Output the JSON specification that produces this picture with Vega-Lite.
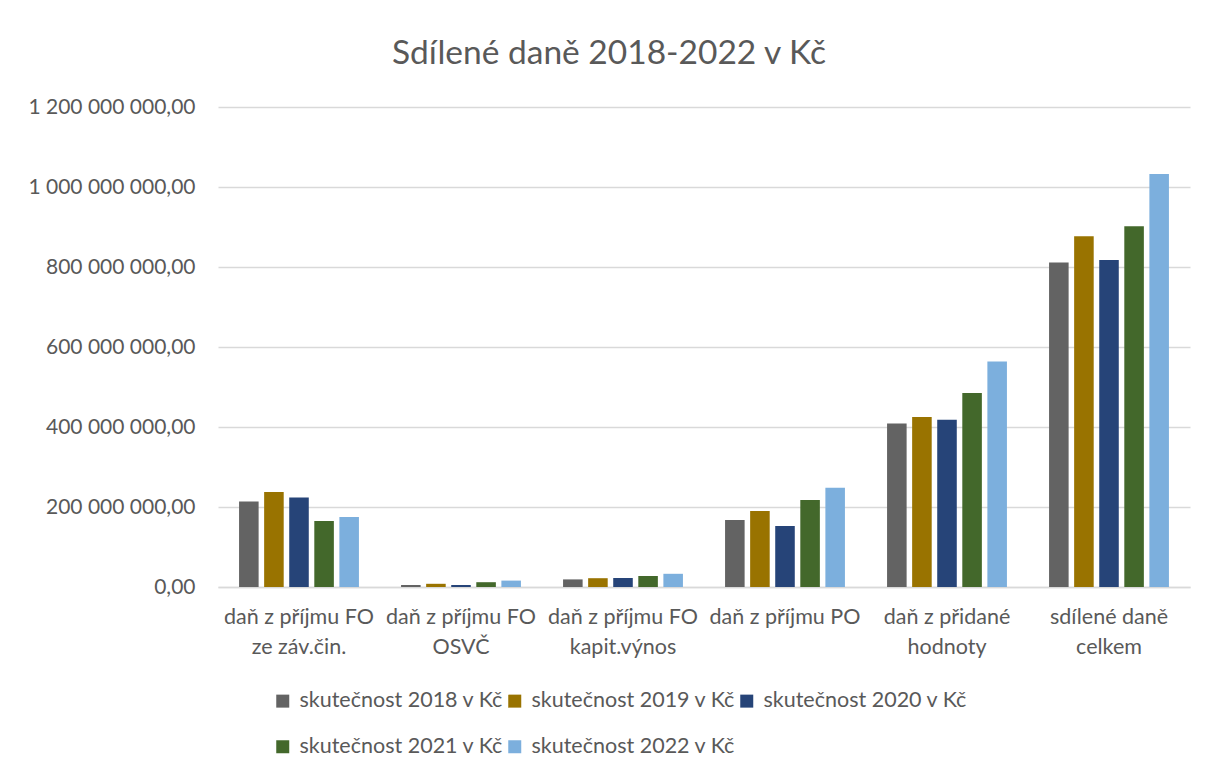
{
  "$schema": "https://vega.github.io/schema/vega-lite/v6.json",
  "width": 972,
  "height": 480,
  "autosize": {"type": "none"},
  "padding": {"left": 218, "top": 107, "right": 19, "bottom": 184},
  "background": "white",
  "title": {
    "text": "Sdílené daně 2018-2022 v Kč",
    "font": "Lato",
    "fontSize": 33.5,
    "fontWeight": "normal",
    "color": "#595959",
    "anchor": "middle",
    "frame": "bounds",
    "offset": 25
  },
  "config": {
    "view": {"stroke": null},
    "font": "Lato"
  },
  "data": {
    "values": [
      {"kategorie": "daň z příjmu FO|ze záv.čin.", "rok": "skutečnost 2018 v Kč", "hodnota": 214000000},
      {"kategorie": "daň z příjmu FO|ze záv.čin.", "rok": "skutečnost 2019 v Kč", "hodnota": 237500000},
      {"kategorie": "daň z příjmu FO|ze záv.čin.", "rok": "skutečnost 2020 v Kč", "hodnota": 224000000},
      {"kategorie": "daň z příjmu FO|ze záv.čin.", "rok": "skutečnost 2021 v Kč", "hodnota": 165000000},
      {"kategorie": "daň z příjmu FO|ze záv.čin.", "rok": "skutečnost 2022 v Kč", "hodnota": 175000000},
      {"kategorie": "daň z příjmu FO|OSVČ", "rok": "skutečnost 2018 v Kč", "hodnota": 5000000},
      {"kategorie": "daň z příjmu FO|OSVČ", "rok": "skutečnost 2019 v Kč", "hodnota": 8000000},
      {"kategorie": "daň z příjmu FO|OSVČ", "rok": "skutečnost 2020 v Kč", "hodnota": 5000000},
      {"kategorie": "daň z příjmu FO|OSVČ", "rok": "skutečnost 2021 v Kč", "hodnota": 12000000},
      {"kategorie": "daň z příjmu FO|OSVČ", "rok": "skutečnost 2022 v Kč", "hodnota": 16000000},
      {"kategorie": "daň z příjmu FO|kapit.výnos", "rok": "skutečnost 2018 v Kč", "hodnota": 19000000},
      {"kategorie": "daň z příjmu FO|kapit.výnos", "rok": "skutečnost 2019 v Kč", "hodnota": 22000000},
      {"kategorie": "daň z příjmu FO|kapit.výnos", "rok": "skutečnost 2020 v Kč", "hodnota": 22500000},
      {"kategorie": "daň z příjmu FO|kapit.výnos", "rok": "skutečnost 2021 v Kč", "hodnota": 27500000},
      {"kategorie": "daň z příjmu FO|kapit.výnos", "rok": "skutečnost 2022 v Kč", "hodnota": 33000000},
      {"kategorie": "daň z příjmu PO", "rok": "skutečnost 2018 v Kč", "hodnota": 167500000},
      {"kategorie": "daň z příjmu PO", "rok": "skutečnost 2019 v Kč", "hodnota": 190000000},
      {"kategorie": "daň z příjmu PO", "rok": "skutečnost 2020 v Kč", "hodnota": 152500000},
      {"kategorie": "daň z příjmu PO", "rok": "skutečnost 2021 v Kč", "hodnota": 217500000},
      {"kategorie": "daň z příjmu PO", "rok": "skutečnost 2022 v Kč", "hodnota": 248000000},
      {"kategorie": "daň z přidané|hodnoty", "rok": "skutečnost 2018 v Kč", "hodnota": 409000000},
      {"kategorie": "daň z přidané|hodnoty", "rok": "skutečnost 2019 v Kč", "hodnota": 425000000},
      {"kategorie": "daň z přidané|hodnoty", "rok": "skutečnost 2020 v Kč", "hodnota": 418000000},
      {"kategorie": "daň z přidané|hodnoty", "rok": "skutečnost 2021 v Kč", "hodnota": 485000000},
      {"kategorie": "daň z přidané|hodnoty", "rok": "skutečnost 2022 v Kč", "hodnota": 564000000},
      {"kategorie": "sdílené daně|celkem", "rok": "skutečnost 2018 v Kč", "hodnota": 811000000},
      {"kategorie": "sdílené daně|celkem", "rok": "skutečnost 2019 v Kč", "hodnota": 877000000},
      {"kategorie": "sdílené daně|celkem", "rok": "skutečnost 2020 v Kč", "hodnota": 817500000},
      {"kategorie": "sdílené daně|celkem", "rok": "skutečnost 2021 v Kč", "hodnota": 902000000},
      {"kategorie": "sdílené daně|celkem", "rok": "skutečnost 2022 v Kč", "hodnota": 1032500000}
    ]
  },
  "mark": {"type": "bar"},
  "encoding": {
    "x": {
      "field": "kategorie",
      "type": "nominal",
      "sort": ["daň z příjmu FO|ze záv.čin.", "daň z příjmu FO|OSVČ", "daň z příjmu FO|kapit.výnos", "daň z příjmu PO", "daň z přidané|hodnoty", "sdílené daně|celkem"],
      "scale": {"paddingInner": 0.26, "paddingOuter": 0.13},
      "axis": {
        "title": null,
        "labelExpr": "split(datum.label, '|')",
        "labelAngle": 0,
        "labelFont": "Lato",
        "labelFontSize": 21.5,
        "labelColor": "#595959",
        "labelLineHeight": 30,
        "labelPadding": 19,
        "labelBaseline": "top",
        "ticks": false,
        "domainColor": "#D9D9D9",
        "domainWidth": 1.5
      }
    },
    "xOffset": {
      "field": "rok",
      "type": "nominal",
      "scale": {"paddingInner": 0.22, "paddingOuter": 0}
    },
    "y": {
      "field": "hodnota",
      "type": "quantitative",
      "scale": {"domain": [0, 1200000000], "nice": false},
      "axis": {
        "title": null,
        "values": [0, 200000000, 400000000, 600000000, 800000000, 1000000000, 1200000000],
        "labelExpr": "replace(replace(format(datum.value, ',.2f'), regexp(',', 'g'), ' '), '.', ',')",
        "labelFont": "Lato",
        "labelFontSize": 21,
        "labelColor": "#595959",
        "labelPadding": 23,
        "ticks": false,
        "domain": false,
        "gridColor": "#D9D9D9",
        "gridWidth": 1.5
      }
    },
    "color": {
      "field": "rok",
      "type": "nominal",
      "scale": {
        "domain": ["skutečnost 2018 v Kč", "skutečnost 2019 v Kč", "skutečnost 2020 v Kč", "skutečnost 2021 v Kč", "skutečnost 2022 v Kč"],
        "range": ["#636363", "#997300", "#264478", "#43682B", "#7CAFDD"]
      },
      "legend": {
        "title": null,
        "orient": "none",
        "legendX": 54,
        "legendY": 583,
        "direction": "horizontal",
        "columns": 3,
        "symbolType": "square",
        "symbolSize": 169,
        "symbolStrokeWidth": 0,
        "labelFont": "Lato",
        "labelFontSize": 21.5,
        "labelColor": "#595959",
        "labelOffset": 6,
        "columnPadding": -3,
        "rowPadding": 23,
        "labelLimit": 300
      }
    }
  }
}
